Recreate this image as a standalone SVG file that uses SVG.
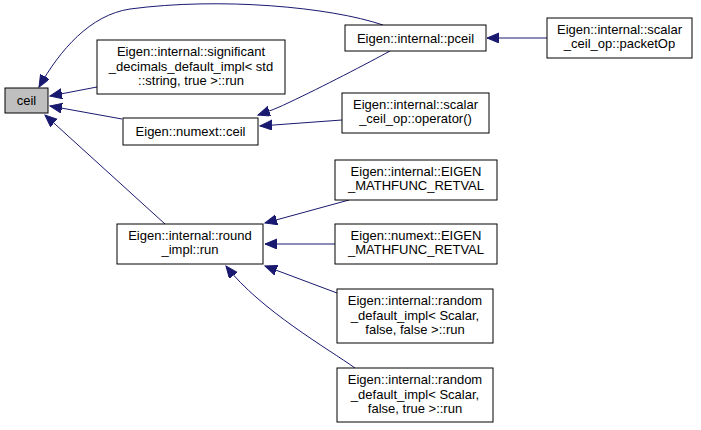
<svg xmlns="http://www.w3.org/2000/svg" width="701" height="430" viewBox="0 0 701 430">
<style>
.n rect{fill:#fff;stroke:#000;stroke-width:1}
.n text{font-family:"Liberation Sans",Arial,sans-serif;font-size:13px;fill:#000;text-anchor:middle}
#edges path{fill:none;stroke:#191970;stroke-width:1;marker-end:url(#ah)}
</style>
<defs>
<marker id="ah" markerUnits="userSpaceOnUse" markerWidth="14" markerHeight="12" refX="12" refY="5" orient="auto">
<path d="M0,0 L12,5 L0,10 z" fill="#191970" stroke="#191970"/>
</marker>
</defs>
<rect width="701" height="430" fill="#fff"/>
<g id="edges">
<path d="M383,25 C330,7 220,-3 130,9 C90,15 60,50 39,87"/>
<path d="M97,87 L50,96"/>
<path d="M122,119 L50,106"/>
<path d="M165,224 L45,115"/>
<path d="M390,51 C370,62 320,88 290,102 C280,107 270,111 258,115"/>
<path d="M342,120 L260,126"/>
<path d="M547,38 L487,38"/>
<path d="M349,200 L265,223"/>
<path d="M335,244 L265,244"/>
<path d="M337,293 L265,266"/>
<path d="M355,368 C330,350 260,310 226,266"/>
</g>
<g id="ceil" class="n"><rect x="5" y="88" width="43" height="25" style="fill:#bfbfbf"/><text x="26.5" y="105">ceil</text></g>
<g id="significant" class="n"><rect x="97" y="40" width="188" height="54"/><text x="191" y="56">Eigen::internal::significant</text><text x="191" y="70.5">_decimals_default_impl&lt; std</text><text x="191" y="85">::string, true &gt;::run</text></g>
<g id="numext_ceil" class="n"><rect x="123" y="118" width="135" height="27"/><text x="190.5" y="136">Eigen::numext::ceil</text></g>
<g id="round_impl" class="n"><rect x="117" y="224" width="146" height="40"/><text x="190" y="240">Eigen::internal::round</text><text x="190" y="254">_impl::run</text></g>
<g id="pceil" class="n"><rect x="345" y="25" width="141" height="26"/><text x="415.5" y="42.5">Eigen::internal::pceil</text></g>
<g id="operator" class="n"><rect x="342" y="93" width="147" height="40"/><text x="415.5" y="109">Eigen::internal::scalar</text><text x="415.5" y="123">_ceil_op::operator()</text></g>
<g id="packetOp" class="n"><rect x="547" y="18" width="145" height="40"/><text x="619.5" y="34">Eigen::internal::scalar</text><text x="619.5" y="48">_ceil_op::packetOp</text></g>
<g id="eigen_internal" class="n"><rect x="335" y="160" width="162" height="40"/><text x="416" y="176">Eigen::internal::EIGEN</text><text x="416" y="190">_MATHFUNC_RETVAL</text></g>
<g id="eigen_numext" class="n"><rect x="335" y="224" width="162" height="40"/><text x="416" y="240">Eigen::numext::EIGEN</text><text x="416" y="254">_MATHFUNC_RETVAL</text></g>
<g id="random_ff" class="n"><rect x="337" y="289" width="156" height="54"/><text x="415" y="305">Eigen::internal::random</text><text x="415" y="319.5">_default_impl&lt; Scalar,</text><text x="415" y="334">false, false &gt;::run</text></g>
<g id="random_ft" class="n"><rect x="337" y="368" width="156" height="54"/><text x="415" y="384">Eigen::internal::random</text><text x="415" y="398.5">_default_impl&lt; Scalar,</text><text x="415" y="413">false, true &gt;::run</text></g>
</svg>
